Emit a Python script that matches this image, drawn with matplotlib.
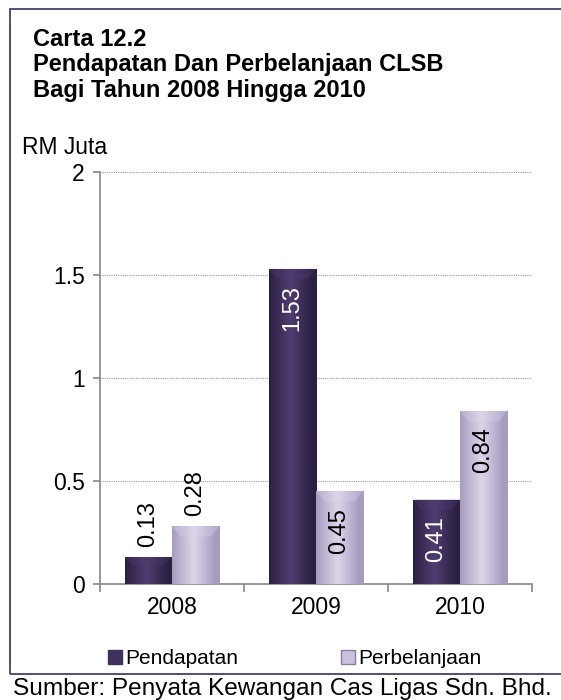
import matplotlib.pyplot as plt
from matplotlib.lines import Line2D
from matplotlib.patches import Rectangle
import numpy as np

plt.rcParams['font.family'] = ['Liberation Sans', 'DejaVu Sans']

years = ['2008', '2009', '2010']
pendapatan = [0.13, 1.53, 0.41]
perbelanjaan = [0.28, 0.45, 0.84]

dark = '#3f2f5c'
light = '#cbc1dc'

fig = plt.figure(figsize=(5.61, 7), dpi=100)

# frame round the chart
fig.add_artist(Rectangle((10 / 561, 26 / 700), 600 / 561, 665 / 700, transform=fig.transFigure,
                         fill=False, edgecolor='#4b3d69', lw=1.3))

fig.text(33 / 561, 1 - 40 / 700, 'Carta 12.2', fontsize=17, fontweight='bold', va='center')
fig.text(33 / 561, 1 - 65 / 700, 'Pendapatan Dan Perbelanjaan CLSB', fontsize=17,
         fontweight='bold', va='center')
fig.text(33 / 561, 1 - 90 / 700, 'Bagi Tahun 2008 Hingga 2010', fontsize=17,
         fontweight='bold', va='center')
fig.text(22 / 561, 1 - 148 / 700, 'RM Juta', fontsize=16.5, va='center')

ax = fig.add_axes([100 / 561, 116 / 700, 432 / 561, 412 / 700])
x = np.arange(len(years))
w = 0.327
b1 = ax.bar(x - w / 2, pendapatan, w, color=dark, edgecolor='#2a1f40', lw=0.6, zorder=3)
b2 = ax.bar(x + w / 2, perbelanjaan, w, color=light, edgecolor='#9c90b0', lw=0.6, zorder=3)


def rgb(h):
    h = h.lstrip('#')
    return tuple(int(h[i:i + 2], 16) / 255 for i in (0, 2, 4))


def bevel(bars, hi, lo):
    # soft shading to imitate the bevelled bars
    for r in bars:
        x0, y0 = r.get_x(), r.get_y()
        bw, bh = r.get_width(), r.get_height()
        grad = np.linspace(0, 1, 64)
        prof = np.clip(1 - np.abs(grad - 0.45) * 2.2, 0, 1)
        cols = np.array([np.interp(prof, [0, 1], [lo[i], hi[i]]) for i in range(3)]).T
        img = cols[np.newaxis, :, :]
        im = ax.imshow(img, extent=[x0, x0 + bw, y0, y0 + bh], aspect='auto', zorder=3.5,
                       interpolation='bilinear')
        im.set_clip_path(r)
        cap = min(0.05, bh * 0.3)
        ax.fill([x0, x0 + bw, x0 + bw * 0.82, x0 + bw * 0.18],
                [y0 + bh, y0 + bh, y0 + bh - cap, y0 + bh - cap],
                color=hi, alpha=0.35, zorder=3.6, lw=0)


bevel(b1, rgb('#4e3d70'), rgb('#2c2042'))
bevel(b2, rgb('#ddd5ea'), rgb('#a89bbf'))

ax.set_ylim(0, 2)
ax.set_xlim(-0.5, 2.5)
ax.set_yticks([0, 0.5, 1, 1.5, 2])
ax.set_yticklabels(['0', '0.5', '1', '1.5', '2'])
ax.yaxis.grid(True, linestyle=(0, (1, 1)), color='#999999', lw=0.8, zorder=0)
ax.set_xticks(x)
ax.set_xticklabels(years)
ax.set_xticks([-0.5, 0.5, 1.5, 2.5], minor=True)
ax.tick_params(axis='x', which='major', length=0, pad=9, labelsize=16.5)
ax.tick_params(axis='x', which='minor', length=6, color='#888888', width=1.2, direction='out')
ax.tick_params(axis='y', length=5, color='#888888', width=1.2, pad=6, labelsize=16.5)
for s in ['top', 'right']:
    ax.spines[s].set_visible(False)
for s in ['left', 'bottom']:
    ax.spines[s].set_color('#888888')
    ax.spines[s].set_linewidth(1.2)

# value labels, rotated
for i, v in enumerate(pendapatan):
    if v < 0.3:
        ax.text(i - w / 2, v + 0.05, f'{v:.2f}', rotation=90, ha='center', va='bottom',
                fontsize=17, color='black', zorder=5)
    else:
        ax.text(i - w / 2, v - 0.08, f'{v:.2f}', rotation=90, ha='center', va='top',
                fontsize=17, color='white', zorder=5)
for i, v in enumerate(perbelanjaan):
    if v < 0.3:
        ax.text(i + w / 2, v + 0.05, f'{v:.2f}', rotation=90, ha='center', va='bottom',
                fontsize=17, color='black', zorder=5)
    else:
        ax.text(i + w / 2, v - 0.08, f'{v:.2f}', rotation=90, ha='center', va='top',
                fontsize=17, color='black', zorder=5)

handles = [Line2D([], [], marker='s', ls='', color=dark, markersize=10),
           Line2D([], [], marker='s', ls='', color=light, markeredgecolor='#8a7ea0', markersize=10)]
fig.legend(handles, ['Pendapatan', 'Perbelanjaan'], loc='center', ncol=2, frameon=False,
           bbox_to_anchor=(293.5 / 561, 1 - 659 / 700), fontsize=15, handletextpad=0.05,
           columnspacing=4.8, handlelength=0.9)

fig.text(13 / 561, 1 - 689 / 700, 'Sumber: Penyata Kewangan Cas Ligas Sdn. Bhd.', fontsize=17.6,
         ha='left', va='center')

fig.savefig('out.png', dpi=100)
